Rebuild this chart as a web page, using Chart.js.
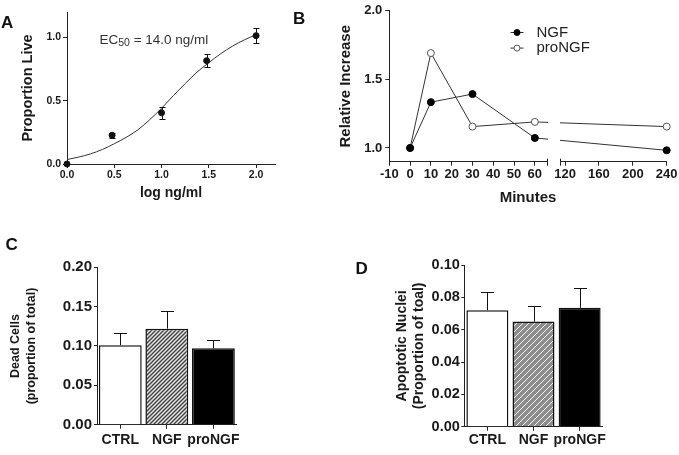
<!DOCTYPE html>
<html lang="en">
<head>
<meta charset="UTF-8">
<title>NGF / proNGF figure</title>
<script src="https://cdn.jsdelivr.net/npm/chart.js"></script>
<style>
    body {
        margin: 0;
        background: #ffffff;
        font-family: "Liberation Sans", Arial, sans-serif;
    }
    .figure {
        position: relative;
        width: 679px;
        height: 455px;
        overflow: hidden;
    }
    .figure canvas {
        position: absolute;
    }
    .panel {
        position: absolute;
        font-size: 17px;
        line-height: 20px;
        font-weight: bold;
        color: #111;
    }
</style>
</head>
<body>

<div class="figure">
    <canvas id="chartA" width="300" height="210" style="left:0;top:0"></canvas>
    <canvas id="chartB" width="379" height="210" style="left:300px;top:0"></canvas>
    <canvas id="chartC" width="340" height="225" style="left:0;top:230px"></canvas>
    <canvas id="chartD" width="339" height="225" style="left:340px;top:230px"></canvas>
    <div class="panel" style="left:1px;top:12.5px">A</div>
    <div class="panel" style="left:293px;top:9px">B</div>
    <div class="panel" style="left:5.5px;top:235px">C</div>
    <div class="panel" style="left:355.5px;top:258.5px">D</div>
</div>

<script>
// ---- panel A: dose response ----
const aDoseLog = [0, 0.477, 1.0, 1.477, 2.0];
const aProportion = [0.0, 0.227, 0.404, 0.816, 1.013];
const aSem = [0, 0.02, 0.045, 0.05, 0.06];
// fitted curve
const aCurveX = [0, 0.125, 0.25, 0.375, 0.5, 0.625, 0.75, 0.875, 1.0, 1.125, 1.25, 1.375, 1.5, 1.625, 1.75, 1.875, 2.0];
const aCurveY = [0.035, 0.055, 0.08, 0.115, 0.16, 0.21, 0.27, 0.35, 0.44, 0.54, 0.635, 0.725, 0.80, 0.87, 0.93, 0.98, 1.02];
const aXTicks = [0, 0.5, 1.0, 1.5, 2.0];
const aYTicks = [0, 0.5, 1.0];

// ---- panel B: time course ----
const bMinutes = [0, 10, 30, 60, 240];
const bNGF = [1.0, 1.334, 1.393, 1.073, 0.983];
const bProNGF = [1.0, 1.692, 1.156, 1.19, 1.156];
const bXTicks = [-10, 0, 10, 20, 30, 40, 50, 60, 120, 160, 200, 240];
const bYTicks = [1.0, 1.5, 2.0];
const bBreak = [66, 114];      // x axis is cut between these two values

// ---- panels C and D: bars ----
const groups = ['CTRL', 'NGF', 'proNGF'];
const cDead = [0.101, 0.122, 0.097];
const cSem = [0.015, 0.022, 0.011];
const cYTicks = [0, 0.05, 0.10, 0.15, 0.20];
const dApoptotic = [0.072, 0.065, 0.0735];
const dSem = [0.011, 0.0095, 0.0125];
const dYTicks = [0, 0.02, 0.04, 0.06, 0.08, 0.10];

const FONT = '"Liberation Sans", Arial, sans-serif';
const INK = '#1a1a1a';
Chart.defaults.font.family = FONT;
Chart.defaults.color = INK;
Chart.defaults.animation = false;

function fixedTicks(list) {
    return function (scale) {
        scale.ticks = list.map(v => ({ value: v }));
    };
}

// linear axis with a gap: left part takes LEFT_SHARE of the width, right part starts at RIGHT_START
const LEFT_SHARE = 0.5696;
const RIGHT_START = 0.6154;
class BrokenLinearScale extends Chart.LinearScale {
    toDecimal(v) {
        const lo = this.min, hi = this.max;
        if (v <= bBreak[0]) return (v - lo) / (bBreak[0] - lo) * LEFT_SHARE;
        if (v >= bBreak[1]) return RIGHT_START + (v - bBreak[1]) / (hi - bBreak[1]) * (1 - RIGHT_START);
        return LEFT_SHARE + (v - bBreak[0]) / (bBreak[1] - bBreak[0]) * (RIGHT_START - LEFT_SHARE);
    }
    getPixelForValue(v) {
        if (v === null || v === undefined || isNaN(v)) return NaN;
        return this.getPixelForDecimal(this.toDecimal(v));
    }
    getValueForPixel(p) {
        const d = this.getDecimalForPixel(p);
        const lo = this.min, hi = this.max;
        if (d <= LEFT_SHARE) return lo + d / LEFT_SHARE * (bBreak[0] - lo);
        if (d >= RIGHT_START) return bBreak[1] + (d - RIGHT_START) / (1 - RIGHT_START) * (hi - bBreak[1]);
        return bBreak[0] + (d - LEFT_SHARE) / (RIGHT_START - LEFT_SHARE) * (bBreak[1] - bBreak[0]);
    }
    buildTicks() {
        return bXTicks.map(v => ({ value: v }));
    }
}
BrokenLinearScale.id = 'brokenLinear';
BrokenLinearScale.defaults = Chart.LinearScale.defaults;
Chart.register(BrokenLinearScale);

// error bars (one sided for bars, both sides for points)
const errorBars = {
    id: 'errorBars',
    afterDatasetsDraw(chart) {
        const ctx = chart.ctx;
        chart.data.datasets.forEach((ds, di) => {
            if (!ds.errors) return;
            const meta = chart.getDatasetMeta(di);
            const ys = chart.scales[meta.yAxisID];
            ctx.save();
            ctx.strokeStyle = '#111';
            ctx.lineWidth = 1;
            meta.data.forEach((el, i) => {
                const raw = ds.data[i];
                const val = typeof raw === 'object' ? raw.y : raw;
                const e = ds.errors[i];
                if (!e) return;
                const x = Math.round(el.x) + 0.5;
                const top = Math.round(ys.getPixelForValue(val + e)) + 0.5;
                const bot = ds.errorBoth ? Math.round(ys.getPixelForValue(val - e)) + 0.5 : ys.getPixelForValue(val);
                const h = ds.capWidth / 2;
                ctx.beginPath();
                ctx.moveTo(x, bot);
                ctx.lineTo(x, top);
                ctx.moveTo(x - h, top);
                ctx.lineTo(x + h, top);
                if (ds.errorBoth) {
                    ctx.moveTo(x - h, bot);
                    ctx.lineTo(x + h, bot);
                }
                ctx.stroke();
            });
            ctx.restore();
        });
    }
};

function axisStyle(tickLen, size, pad, fmt) {
    return {
        grid: { drawOnChartArea: false, tickLength: tickLen, color: '#222', tickWidth: 1 },
        border: { color: '#222', width: 1 },
        ticks: {
            font: { size: size, weight: 'bold' }, color: INK, padding: pad,
            autoSkip: false, maxRotation: 0, callback: fmt
        }
    };
}

// ---------- A ----------
const ec50Label = {
    id: 'ec50Label',
    afterDraw(chart) {
        const ctx = chart.ctx;
        ctx.save();
        ctx.fillStyle = '#333';
        ctx.textBaseline = 'alphabetic';
        let x = 99.5;
        const y = 43.5;
        ctx.font = '13.5px ' + FONT;
        ctx.fillText('EC', x, y);
        x += ctx.measureText('EC').width;
        ctx.font = '10.5px ' + FONT;
        ctx.fillText('50', x, y + 2.5);
        x += ctx.measureText('50').width;
        ctx.font = '13.5px ' + FONT;
        ctx.fillText(' = 14.0 ng/ml', x, y);
        ctx.restore();
    }
};

const axA = axisStyle(4, 10.5, 1, v => v.toFixed(1));
const ayA = axisStyle(4, 10.5, 2, v => v.toFixed(1));
new Chart(document.getElementById('chartA'), {
    type: 'scatter',
    data: {
        datasets: [{
            label: 'Data',
            data: aDoseLog.map((x, i) => ({ x: x, y: aProportion[i] })),
            pointRadius: 3,
            backgroundColor: '#111',
            borderColor: '#111',
            errors: aSem,
            errorBoth: true,
            capWidth: 6,
            clip: false
        }, {
            label: 'Fit',
            data: aCurveX.map((x, i) => ({ x: x, y: aCurveY[i] })),
            showLine: true,
            cubicInterpolationMode: 'monotone',
            borderColor: '#333',
            borderWidth: 1,
            pointRadius: 0,
            clip: false
        }]
    },
    options: {
        responsive: false,
        layout: { padding: { top: 12, right: 25, bottom: 0, left: 0 }, autoPadding: false },
        plugins: { legend: { display: false }, tooltip: { enabled: false } },
        scales: {
            x: Object.assign(axA, {
                type: 'linear', min: 0, max: 2.2,
                afterBuildTicks: fixedTicks(aXTicks),
                afterFit: s => { s.height = 46; },
                title: { display: true, text: 'log ng/ml', color: INK, font: { size: 14, weight: 'bold' }, padding: { top: 0, bottom: 8 } }
            }),
            y: Object.assign(ayA, {
                min: 0, max: 1.2,
                afterBuildTicks: fixedTicks(aYTicks),
                afterFit: s => { s.width = 67; },
                title: { display: true, text: 'Proportion Live', color: INK, font: { size: 14.5, weight: 'bold' }, padding: { top: 19.5 } }
            })
        }
    },
    plugins: [errorBars, ec50Label]
});

// ---------- B ----------
const breakAndLegend = {
    id: 'breakAndLegend',
    afterDraw(chart) {
        const ctx = chart.ctx;
        const xs = chart.scales.x;
        const area = chart.chartArea;
        const x1 = Math.round(xs.getPixelForValue(bBreak[0])) + 0.5;
        const x2 = Math.round(xs.getPixelForValue(bBreak[1])) + 0.5;
        ctx.save();
        ctx.fillStyle = '#ffffff';
        ctx.fillRect(x1 + 0.5, area.top + 60, x2 - x1 - 1, area.bottom - area.top - 55);
        ctx.strokeStyle = '#222';
        ctx.lineWidth = 1;
        ctx.beginPath();
        ctx.moveTo(x1, area.bottom - 3);
        ctx.lineTo(x1, area.bottom + 4);
        ctx.moveTo(x2, area.bottom - 3);
        ctx.lineTo(x2, area.bottom + 4);
        ctx.stroke();

        // legend
        chart.data.datasets.forEach((ds, i) => {
            const y = 32.5 + i * 15.6;
            ctx.strokeStyle = ds.borderColor;
            ctx.beginPath();
            ctx.moveTo(210.5, y);
            ctx.lineTo(223.5, y);
            ctx.stroke();
            ctx.beginPath();
            ctx.arc(217, y, 3, 0, Math.PI * 2);
            ctx.fillStyle = ds.pointBackgroundColor;
            ctx.fill();
            ctx.strokeStyle = ds.pointBorderColor;
            ctx.stroke();
            ctx.fillStyle = '#222';
            ctx.font = '15px ' + FONT;
            ctx.textBaseline = 'middle';
            ctx.fillText(ds.label, 236.5, y);
        });
        ctx.restore();
    }
};

const axB = axisStyle(4, 13, 1, v => String(v));
const ayB = axisStyle(4, 13, 3, v => v.toFixed(1));
new Chart(document.getElementById('chartB'), {
    type: 'line',
    data: {
        datasets: [{
            label: 'NGF',
            data: bMinutes.map((x, i) => ({ x: x, y: bNGF[i] })),
            borderColor: '#333',
            borderWidth: 1,
            pointRadius: 3.5,
            pointBackgroundColor: '#000',
            pointBorderColor: '#000',
            pointBorderWidth: 1,
            clip: false
        }, {
            label: 'proNGF',
            data: bMinutes.map((x, i) => ({ x: x, y: bProNGF[i] })),
            borderColor: '#333',
            borderWidth: 1,
            pointRadius: 3.5,
            pointBackgroundColor: '#fff',
            pointBorderColor: '#555',
            pointBorderWidth: 1,
            clip: false
        }]
    },
    options: {
        responsive: false,
        layout: { padding: { top: 6.7, right: 12.3, bottom: 0, left: 0 }, autoPadding: false },
        plugins: { legend: { display: false }, tooltip: { enabled: false } },
        scales: {
            x: Object.assign(axB, {
                type: 'brokenLinear', min: -10, max: 240,
                afterFit: s => { s.height = 48.3; },
                title: { display: true, text: 'Minutes', color: INK, font: { size: 15, weight: 'bold' }, padding: { top: 0, bottom: 3 } }
            }),
            y: Object.assign(ayB, {
                min: 0.9, max: 2.0,
                afterBuildTicks: fixedTicks(bYTicks),
                afterFit: s => { s.width = 89.3; },
                title: { display: true, text: 'Relative Increase', color: INK, font: { size: 15, weight: 'bold' }, padding: { top: 37.3 } }
            })
        }
    },
    plugins: [breakAndLegend]
});

// ---------- C and D ----------
function hatch(canvasId, step, paper, ink, width) {
    const tile = document.createElement('canvas');
    tile.width = step;
    tile.height = step;
    const g = tile.getContext('2d');
    g.fillStyle = paper;
    g.fillRect(0, 0, step, step);
    g.strokeStyle = ink;
    g.lineWidth = width;
    g.beginPath();
    g.moveTo(0, step); g.lineTo(step, 0);
    g.moveTo(-step, step); g.lineTo(step, -step);
    g.moveTo(0, 2 * step); g.lineTo(2 * step, 0);
    g.stroke();
    return document.getElementById(canvasId).getContext('2d').createPattern(tile, 'repeat');
}

function barChart(id, values, errs, yMax, yTicks, title, titleSize, titleLine, titlePad, yWidth, padding, xHeight, tickSize, tickPad, xPad, hatchFill, barPct, cap) {
    const ax = axisStyle(4, 14, xPad, undefined);
    ax.grid.offset = false;
    delete ax.ticks.callback;
    const ay = axisStyle(3, tickSize, tickPad, v => v.toFixed(2));
    return new Chart(document.getElementById(id), {
        type: 'bar',
        data: {
            labels: groups,
            datasets: [{
                data: values,
                errors: errs,
                capWidth: cap,
                backgroundColor: ['#ffffff', hatchFill, '#000000'],
                borderColor: '#111',
                borderWidth: 1.5,
                borderSkipped: 'bottom',
                barPercentage: barPct,
                categoryPercentage: 1.0
            }]
        },
        options: {
            responsive: false,
            layout: { padding: padding, autoPadding: false },
            plugins: { legend: { display: false }, tooltip: { enabled: false } },
            scales: {
                x: Object.assign(ax, {
                    afterFit: s => { s.height = xHeight; }
                }),
                y: Object.assign(ay, {
                    min: 0, max: yMax,
                    afterBuildTicks: fixedTicks(yTicks),
                    afterFit: s => { s.width = yWidth; },
                    title: { display: true, text: title, color: INK, font: { size: titleSize, weight: 'bold', lineHeight: titleLine }, padding: { top: titlePad } }
                })
            }
        },
        plugins: [errorBars]
    });
}

barChart('chartC', cDead, cSem, 0.20, cYTicks,
    ['Dead Cells', '(proportion of total)'], 12.5, 16 / 12.5, 7.8, 97,
    { top: 37.3, right: 103.3, bottom: 0, left: 0 }, 30.3, 15, 2, 3,
    hatch('chartC', 4, '#e4e4e4', '#444444', 1.4), 0.92, 13);

barChart('chartD', dApoptotic, dSem, 0.10, dYTicks,
    ['Apoptotic Nuclei', '(Proportion of toal)'], 14, 1.22, 54, 124.3,
    { top: 35, right: 76.3, bottom: 0, left: 0 }, 28.3, 14.5, 1.5, 1,
    hatch('chartD', 6, '#8c8c8c', '#f2f2f2', 1), 0.91, 13);
</script>

</body>
</html>
